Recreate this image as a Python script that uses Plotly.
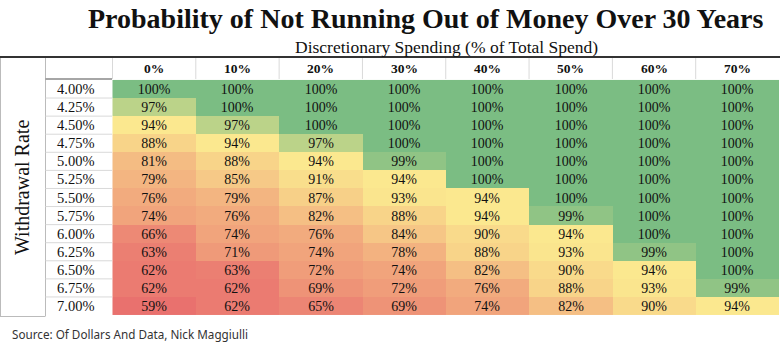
import plotly.graph_objects as go

title = "Probability of Not Running Out of Money Over 30 Years"
subtitle = "Discretionary Spending (% of Total Spend)"
row_axis_title = "Withdrawal Rate"
source = "Source: Of Dollars And Data, Nick Maggiulli"

columns = ["0%", "10%", "20%", "30%", "40%", "50%", "60%", "70%"]
rates = ["4.00%", "4.25%", "4.50%", "4.75%", "5.00%", "5.25%", "5.50%",
         "5.75%", "6.00%", "6.25%", "6.50%", "6.75%", "7.00%"]
values = [
    [100, 100, 100, 100, 100, 100, 100, 100],
    [97, 100, 100, 100, 100, 100, 100, 100],
    [94, 97, 100, 100, 100, 100, 100, 100],
    [88, 94, 97, 100, 100, 100, 100, 100],
    [81, 88, 94, 99, 100, 100, 100, 100],
    [79, 85, 91, 94, 100, 100, 100, 100],
    [76, 79, 87, 93, 94, 100, 100, 100],
    [74, 76, 82, 88, 94, 99, 100, 100],
    [66, 74, 76, 84, 90, 94, 100, 100],
    [63, 71, 74, 78, 88, 93, 99, 100],
    [62, 63, 72, 74, 82, 90, 94, 100],
    [62, 62, 69, 72, 76, 88, 93, 99],
    [59, 62, 65, 69, 74, 82, 90, 94],
]

W, H = 780, 351
def px(x):
    return x / W
def py(y):
    return 1 - y / H

flat = sorted(v for r in values for v in r)
zmin, zmax = min(flat), max(flat)
n = len(flat)
median = (flat[(n - 1) // 2] + flat[n // 2]) / 2
mid = (median - zmin) / (zmax - zmin)
colorscale = [[0, "#E9716E"], [mid, "#FBE88F"], [1, "#7BBD83"]]

SERIF = "Liberation Serif"
X0, X1 = 112, 779
Y0, Y1 = 79, 316   # table body top/bottom in pixels
HEAD_TOP = 57

fig = go.Figure()
fig.add_trace(go.Heatmap(
    z=values, x=columns, y=rates,
    zmin=zmin, zmax=zmax, colorscale=colorscale, showscale=False,
    texttemplate="%{z}%", textfont=dict(family=SERIF, size=14, color="#111"),
    hoverinfo="skip", xgap=0, ygap=0,
))

annotations = []
# title, subtitle, source
annotations.append(dict(text="<b>" + title + "</b>", xref="paper", yref="paper",
                        x=px(426), y=py(18), showarrow=False,
                        font=dict(family=SERIF, size=28, color="#111"),
                        xanchor="center", yanchor="middle"))
annotations.append(dict(text=subtitle, xref="paper", yref="paper",
                        x=px(447), y=py(47), showarrow=False,
                        font=dict(family=SERIF, size=17.5, color="#111"),
                        xanchor="center", yanchor="middle"))
annotations.append(dict(text=source, xref="paper", yref="paper",
                        x=px(10), y=py(334), showarrow=False,
                        font=dict(family="Noto Sans", size=11.7, color="#333"),
                        xanchor="left", yanchor="middle"))
annotations.append(dict(text=row_axis_title, xref="paper", yref="paper",
                        x=px(22), y=py(188), showarrow=False, textangle=-90,
                        font=dict(family=SERIF, size=20, color="#111"),
                        xanchor="center", yanchor="middle"))
# column headers
for c in columns:
    annotations.append(dict(text="<b>" + c + "</b>", xref="x", yref="paper",
                            x=c, y=py(68), showarrow=False,
                            font=dict(family=SERIF, size=13.5, color="#111"),
                            xanchor="center", yanchor="middle"))
# row labels
for r in rates:
    annotations.append(dict(text=r, xref="paper", yref="y",
                            x=px(75), y=r, showarrow=False,
                            font=dict(family=SERIF, size=14.5, color="#111"),
                            xanchor="center", yanchor="middle"))

shapes = []
grid = "#D9D9D9"
# header separators
for i in range(len(columns)):
    shapes.append(dict(type="line", xref="x", yref="paper", x0=i - 0.5, x1=i - 0.5,
                       y0=py(Y0), y1=py(HEAD_TOP), line=dict(color=grid, width=1)))
shapes.append(dict(type="line", xref="paper", yref="paper", x0=px(45.5), x1=px(45.5),
                   y0=py(Y1), y1=py(HEAD_TOP), line=dict(color="#BBBBBB", width=1)))
shapes.append(dict(type="line", xref="paper", yref="paper", x0=px(0.5), x1=px(0.5),
                   y0=py(Y1), y1=py(HEAD_TOP), line=dict(color="#BBBBBB", width=1)))
shapes.append(dict(type="line", xref="paper", yref="paper", x0=0, x1=px(45.5),
                   y0=py(Y1 + 0.5), y1=py(Y1 + 0.5), line=dict(color="#BBBBBB", width=1)))
# row label separators
for i in range(1, len(rates)):
    shapes.append(dict(type="line", xref="paper", yref="y", x0=px(45.5), x1=px(X0),
                       y0=i - 0.5, y1=i - 0.5, line=dict(color=grid, width=1)))
# line under header
shapes.append(dict(type="line", xref="paper", yref="paper", x0=px(45.5), x1=px(X0),
                   y0=py(Y0), y1=py(Y0), line=dict(color="#888888", width=1.5)))
# top thick line
shapes.append(dict(type="line", xref="paper", yref="paper", x0=0, x1=1,
                   y0=py(HEAD_TOP), y1=py(HEAD_TOP), line=dict(color="#333333", width=2)))

fig.update_layout(
    width=W, height=H, margin=dict(l=0, r=0, t=0, b=0),
    paper_bgcolor="white", plot_bgcolor="white",
    xaxis=dict(domain=[px(X0), px(X1)], visible=False, type="category"),
    yaxis=dict(domain=[py(Y1), py(Y0)], visible=False, type="category",
               autorange="reversed"),
    annotations=annotations, shapes=shapes, showlegend=False,
)

fig.write_html("out.html")
